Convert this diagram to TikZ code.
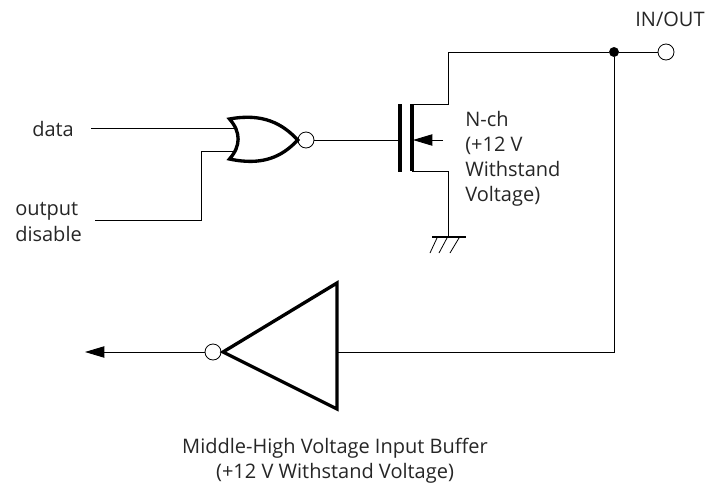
\documentclass[tikz,border=0pt]{standalone}
\usepackage{fontspec}
\setmainfont{Open Sans}
\usetikzlibrary{arrows.meta}
\tikzset{
    wire/.style={line width=.65pt},
    heavy/.style={line width=2.5pt},
    bubble/.style={draw,circle,fill=white,line width=.6pt,minimum size=12pt,inner sep=0pt},
    dot/.style={draw,circle,fill=black,minimum size=7pt,inner sep=0pt},
    label/.style={inner sep=0pt,align=left,font=\fontsize{15}{18.8}\selectfont,text=black!85},
    tip/.style={-{Triangle[length=14.5pt,width=8.5pt]}},
}
\begin{document}
\begin{tikzpicture}[x=.75pt,y=-.75pt]
    \useasboundingbox (0,0) rectangle (711,486);
    % Anschlusspunkte
    \coordinate (dataIn) at (91,128);
    \coordinate (dataEnd) at (236,128);
    \coordinate (disableIn) at (95,220);
    \coordinate (disableEnd) at (236,151);
    \coordinate (gate) at (400,140);
    \coordinate (drain) at (412,104);
    \coordinate (source) at (412,171);
    \coordinate (ground) at (448,237);
    \coordinate (rail) at (448,52);
    \coordinate (arrowOut) at (443,140);
    \coordinate (arrowEnd) at (85,352);
    \coordinate (bufferBack) at (337,352);
    % Knoten
    \node[bubble] (norOut) at (306,140) {};
    \node[dot] (branch) at (614,52) {};
    \node[bubble] (inout) at (666,52) {};
    \node[bubble] (bufferOut) at (213,352) {};
    % Leitungen
    \draw[wire]
    (dataIn) -- (dataEnd)
    (disableIn) -| (201,151) -- (disableEnd)
    (norOut) -- (gate)
    (source) -| (ground)
    (drain) -| (rail) -- (branch) -- (inout)
    (branch) |- (bufferBack)
    ;
    % NOR-Gatter
    \draw[heavy,fill=white,line join=miter]
    (229.5,119) .. controls (262,113) and (282,123) .. (297.7,140)
    .. controls (282,157) and (262,166) .. (229.5,159)
    .. controls (241,146) and (241,132) .. cycle
    ;
    % Transistor
    \draw[line width=2.4pt]
    (400,104) -- (400,172)
    (drain) -- (source)
    ;
    \draw[wire,tip] (arrowOut) -- (413,140);
    % Masse
    \draw[line width=2.2pt] (432,237) -- (466,237);
    \draw[line width=.6pt]
    (437,238) -- (430,253)
    (447,238) -- (439,253)
    (459,238) -- (450,253)
    ;
    % Eingangspuffer
    \draw[heavy,fill=white,line join=miter] (337,283) -- (337,409) -- (223,352) -- cycle;
    \draw[wire,tip] (bufferOut) -- (arrowEnd);
    % Beschriftungen
    \node[label,anchor=west] (dataLabel) at (32,129) {data};
    \node[label,anchor=west] (disableLabel) at (15,222) {output\\disable};
    \node[label,anchor=west] (nchLabel) at (465,159) {N-ch\\(+12 V\\Withstand\\Voltage)};
    \node[label] (inoutLabel) at (670,19) {IN/OUT};
    \node[label,align=center] (bufferLabel) at (335,461) {Middle-High Voltage Input Buffer\\(+12 V Withstand Voltage)};
\end{tikzpicture}
\end{document}
